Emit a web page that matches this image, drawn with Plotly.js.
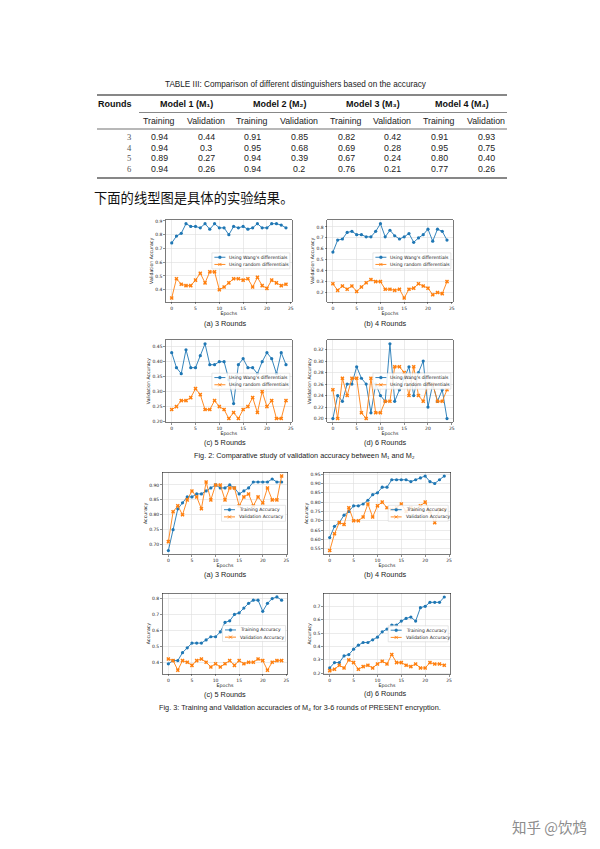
<!DOCTYPE html>
<html><head><meta charset="utf-8">
<script src="https://cdn.plot.ly/plotly-3.0.1.min.js"></script>
<style>html,body{margin:0;padding:0;background:#fff}</style>
</head><body><div id="page" style="width:600px;height:849px"></div>
<script>
// ---------------- data ----------------
const epochs = [0,1,2,3,4,5,6,7,8,9,10,11,12,13,14,15,16,17,18,19,20,21,22,23,24];

const tableCaption = 'TABLE III: Comparison of different distinguishers based on the accuracy';
const tableRoundsHead = 'Rounds';
const tableRounds = ['3','4','5','6'];
const tableModels = ['Model 1 (M₁)','Model 2 (M₂)','Model 3 (M₃)','Model 4 (M₄)'];
const tableSubHeads = ['Training','Validation'];
const m1Train = ['0.94','0.94','0.89','0.94'];
const m1Val   = ['0.44','0.3','0.27','0.26'];
const m2Train = ['0.91','0.95','0.94','0.94'];
const m2Val   = ['0.85','0.68','0.39','0.2'];
const m3Train = ['0.82','0.69','0.67','0.76'];
const m3Val   = ['0.42','0.28','0.24','0.21'];
const m4Train = ['0.91','0.95','0.80','0.77'];
const m4Val   = ['0.93','0.75','0.40','0.26'];

const bodyText = '下面的线型图是具体的实验结果。';
const subCaptions = ['(a) 3 Rounds','(b) 4 Rounds','(c) 5 Rounds','(d) 6 Rounds'];
const fig2Caption = 'Fig. 2: Comparative study of validation accuracy between M₁ and M₂';
const fig3Caption = 'Fig. 3: Training and Validation accuracies of M₄ for 3-6 rounds of PRESENT encryption.';
const fig2Names = ["Using Wang's differentials", 'Using random differentials'];
const fig3Names = ['Training Accuracy', 'Validation Accuracy'];
const fig2YTitle = 'Validation Accuracy';
const fig3YTitle = 'Accuracy';
const xTitle = 'Epochs';
const watermark = '知乎 @饮鸩';

// Fig. 2 : validation accuracy, M1 (Wang's differentials) vs M2 (random differentials)
const f2r3Wang   = [0.74,0.79,0.81,0.88,0.86,0.86,0.85,0.88,0.84,0.88,0.85,0.85,0.80,0.86,0.85,0.86,0.84,0.85,0.88,0.85,0.85,0.88,0.88,0.87,0.85];
const f2r3Random = [0.34,0.48,0.44,0.43,0.43,0.47,0.52,0.45,0.53,0.53,0.40,0.42,0.45,0.48,0.48,0.47,0.48,0.42,0.49,0.43,0.41,0.47,0.45,0.43,0.44];
const f2r4Wang   = [0.57,0.68,0.69,0.75,0.76,0.73,0.73,0.71,0.71,0.76,0.83,0.71,0.77,0.72,0.69,0.71,0.74,0.66,0.70,0.73,0.78,0.67,0.78,0.76,0.68];
const f2r4Random = [0.28,0.22,0.26,0.23,0.26,0.21,0.25,0.29,0.32,0.30,0.30,0.23,0.23,0.22,0.23,0.15,0.23,0.24,0.28,0.26,0.24,0.18,0.20,0.19,0.30];
const f2r5Wang   = [0.43,0.38,0.36,0.44,0.38,0.38,0.42,0.46,0.39,0.39,0.40,0.40,0.34,0.26,0.39,0.41,0.38,0.38,0.36,0.40,0.43,0.41,0.36,0.43,0.39];
const f2r5Random = [0.24,0.25,0.27,0.27,0.28,0.31,0.29,0.24,0.24,0.27,0.25,0.24,0.21,0.23,0.21,0.24,0.25,0.28,0.23,0.30,0.25,0.27,0.21,0.21,0.27];
const f2r6Wang   = [0.20,0.24,0.23,0.26,0.26,0.29,0.27,0.26,0.21,0.26,0.24,0.23,0.33,0.23,0.25,0.27,0.29,0.24,0.28,0.30,0.22,0.26,0.23,0.25,0.20];
const f2r6Random = [0.25,0.20,0.27,0.24,0.27,0.27,0.21,0.20,0.27,0.21,0.21,0.23,0.23,0.29,0.29,0.28,0.24,0.29,0.24,0.23,0.26,0.26,0.23,0.23,0.25];

// Fig. 3 : training / validation accuracy of M4
const f3r3Train = [0.68,0.75,0.82,0.84,0.86,0.86,0.87,0.87,0.88,0.89,0.90,0.89,0.89,0.90,0.89,0.87,0.88,0.89,0.91,0.91,0.91,0.91,0.92,0.91,0.91];
const f3r3Val   = [0.71,0.81,0.83,0.80,0.85,0.88,0.86,0.82,0.91,0.85,0.90,0.90,0.85,0.89,0.89,0.83,0.86,0.87,0.83,0.86,0.84,0.89,0.85,0.85,0.93];
const f3r4Train = [0.61,0.67,0.69,0.73,0.75,0.78,0.78,0.79,0.81,0.84,0.85,0.88,0.88,0.92,0.92,0.92,0.92,0.91,0.92,0.93,0.94,0.91,0.90,0.92,0.94];
const f3r4Val   = [0.54,0.63,0.69,0.68,0.77,0.70,0.70,0.72,0.79,0.72,0.78,0.80,0.77,0.76,0.77,0.79,0.75,0.77,0.76,0.78,0.80,0.75,0.69,0.76,0.76];
const f3r5Train = [0.39,0.41,0.41,0.46,0.49,0.52,0.52,0.52,0.54,0.56,0.56,0.59,0.65,0.66,0.70,0.71,0.74,0.77,0.79,0.79,0.72,0.77,0.80,0.81,0.79];
const f3r5Val   = [0.42,0.41,0.35,0.41,0.40,0.38,0.41,0.42,0.40,0.37,0.39,0.37,0.39,0.41,0.38,0.41,0.39,0.40,0.40,0.42,0.41,0.35,0.40,0.41,0.41];
const f3r6Train = [0.24,0.28,0.28,0.33,0.34,0.38,0.41,0.43,0.43,0.45,0.47,0.51,0.53,0.56,0.56,0.59,0.61,0.62,0.59,0.69,0.70,0.73,0.73,0.73,0.77];
const f3r6Val   = [0.22,0.23,0.26,0.24,0.30,0.28,0.23,0.25,0.26,0.24,0.27,0.29,0.27,0.34,0.28,0.28,0.26,0.25,0.27,0.24,0.24,0.28,0.27,0.27,0.26];

// ---------------- layout helpers ----------------
const W = 600, H = 849;
const PX = x => x / W;
const PY = y => 1 - y / H;
const BLUE = '#1f77b4', ORANGE = '#ff7f0e';
const SANS = 'Liberation Sans, Arial, sans-serif';
const SERIF = 'Liberation Serif, Times New Roman, serif';
const MPL = 'DejaVu Sans, sans-serif';

const annotations = [];
const shapes = [];
function txt(text, x, y, size, opts) {
  opts = opts || {};
  annotations.push({
    xref: 'paper', yref: 'paper', x: PX(x), y: PY(y),
    xanchor: opts.xanchor || 'center', yanchor: 'middle',
    text: text, showarrow: false, borderpad: 0,
    font: {family: opts.family || SANS, size: size, color: opts.color || '#111', weight: opts.weight || 'normal'}
  });
}
function hline(x0, x1, y, w, color) {
  shapes.push({type: 'line', xref: 'paper', yref: 'paper', x0: PX(x0), x1: PX(x1), y0: PY(y), y1: PY(y),
    line: {color: color || '#111', width: w}, layer: 'above'});
}

// ---------------- table ----------------
txt(tableCaption, 296, 84, 8.2, {color: '#222'});
hline(97, 507, 95, 1.1);
txt(tableRoundsHead, 97, 104, 9, {xanchor: 'left', weight: 'bold'});
const modelX = [186, 280, 373, 462];
tableModels.forEach((m, i) => txt(m, modelX[i], 104, 9, {weight: 'bold'}));
hline(139, 507, 112.5, 0.5);
const colX = [159, 206, 252, 299, 346, 392, 439, 486];
colX.forEach((x, i) => txt(tableSubHeads[i % 2], x, 121, 8.8, {color: '#222'}));
hline(97, 507, 129, 0.6);
const rowY = [137, 147.7, 158.4, 169];
const cols = [m1Train, m1Val, m2Train, m2Val, m3Train, m3Val, m4Train, m4Val];
tableRounds.forEach((r, j) => {
  txt(r, 129, rowY[j], 8.6, {family: SERIF, color: '#555'});
  cols.forEach((col, i) => txt(col[j], colX[i], rowY[j], 8.8, {color: '#222'}));
});
hline(97, 507, 178, 1.1);

txt(bodyText, 93, 197, 13.3, {xanchor: 'left', family: 'Noto Sans CJK SC, sans-serif', color: '#111'});

// ---------------- charts ----------------
const charts = [
  {px: [166, 291.7], py: [220, 301.7], a: f2r3Wang, b: f2r3Random, names: fig2Names, yt: fig2YTitle, dtick: 0.1, fmt: '.1f', legW: 78, sub: subCaptions[0], sx: 225, sy: 323},
  {px: [327.2, 452.7], py: [220, 301.7], a: f2r4Wang, b: f2r4Random, names: fig2Names, yt: fig2YTitle, dtick: 0.1, fmt: '.1f', legW: 78, sub: subCaptions[1], sx: 385, sy: 323},
  {px: [166, 291.7], py: [340, 422.3], a: f2r5Wang, b: f2r5Random, names: fig2Names, yt: fig2YTitle, dtick: 0.05, fmt: '.2f', legW: 78, sub: subCaptions[2], sx: 225, sy: 442.3},
  {px: [327.2, 452.7], py: [340, 422.3], a: f2r6Wang, b: f2r6Random, names: fig2Names, yt: fig2YTitle, dtick: 0.02, fmt: '.2f', legW: 78, sub: subCaptions[3], sx: 385, sy: 442.3},
  {px: [162.7, 287.3], py: [472.3, 554.3], a: f3r3Train, b: f3r3Val, names: fig3Names, yt: fig3YTitle, dtick: 0.05, fmt: '.2f', legW: 64, sub: subCaptions[0], sx: 225, sy: 574},
  {px: [324, 450], py: [472.3, 554.3], a: f3r4Train, b: f3r4Val, names: fig3Names, yt: fig3YTitle, dtick: 0.05, fmt: '.2f', legW: 60, sub: subCaptions[1], sx: 385, sy: 574},
  {px: [162.7, 287.3], py: [593.3, 673.8], a: f3r5Train, b: f3r5Val, names: fig3Names, yt: fig3YTitle, dtick: 0.1, fmt: '.1f', legW: 63, sub: subCaptions[2], sx: 225, sy: 694},
  {px: [324, 450], py: [593.3, 674.3], a: f3r6Train, b: f3r6Val, names: fig3Names, yt: fig3YTitle, dtick: 0.1, fmt: '.1f', legW: 60, sub: subCaptions[3], sx: 385, sy: 693.5}
];

const layout = {
  width: W, height: H, margin: {l: 0, r: 0, t: 0, b: 0},
  paper_bgcolor: '#fff', plot_bgcolor: '#fff', showlegend: false,
  annotations: annotations, shapes: shapes
};
const data = [];

charts.forEach((c, i) => {
  const n = i === 0 ? '' : String(i + 1);
  const all = c.a.concat(c.b);
  const mn = Math.min(...all), mx = Math.max(...all), pad = (mx - mn) * 0.05;
  const axCommon = {
    showgrid: true, gridcolor: '#dedede', gridwidth: 0.6,
    showline: true, mirror: true, linecolor: '#222', linewidth: 0.6,
    ticks: 'outside', ticklen: 2, tickwidth: 0.5, tickcolor: '#222',
    tickfont: {family: MPL, size: 4.5, color: '#222'},
    zeroline: false, fixedrange: true
  };
  layout['xaxis' + n] = Object.assign({}, axCommon, {
    domain: [PX(c.px[0]), PX(c.px[1])], anchor: 'y' + n,
    range: [-1.2, 25.2], tick0: 0, dtick: 5,
    title: {text: xTitle, font: {family: MPL, size: 4.7, color: '#222'}, standoff: 1}
  });
  layout['yaxis' + n] = Object.assign({}, axCommon, {
    domain: [PY(c.py[1]), PY(c.py[0])], anchor: 'x' + n,
    range: [mn - pad, mx + pad], dtick: c.dtick, tick0: 0, tickformat: c.fmt,
    title: {text: c.yt, font: {family: MPL, size: 4.7, color: '#222'}, standoff: 1}
  });
  data.push({type: 'scatter', mode: 'lines+markers', x: epochs, y: c.a, name: c.names[0],
    xaxis: 'x' + n, yaxis: 'y' + n,
    line: {color: BLUE, width: 0.9}, marker: {symbol: 'circle', size: 3.2, color: BLUE}});
  data.push({type: 'scatter', mode: 'lines+markers', x: epochs, y: c.b, name: c.names[1],
    xaxis: 'x' + n, yaxis: 'y' + n,
    line: {color: ORANGE, width: 0.9}, marker: {symbol: 'x', size: 3.6, color: ORANGE}});

  // legend box (matplotlib-style, "center right")
  const bx1 = c.px[1] - 1.8, bx0 = bx1 - c.legW;
  const cy = (c.py[0] + c.py[1]) / 2;
  shapes.push({type: 'rect', xref: 'paper', yref: 'paper', x0: PX(bx0), x1: PX(bx1), y0: PY(cy + 8), y1: PY(cy - 8),
    line: {color: '#cfcfcf', width: 0.5}, fillcolor: 'rgba(255,255,255,0.85)', layer: 'above'});
  [[c.names[0], BLUE, cy - 3.6, 'o'], [c.names[1], ORANGE, cy + 3.6, 'x']].forEach(e => {
    shapes.push({type: 'line', xref: 'paper', yref: 'paper', x0: PX(bx0 + 2.5), x1: PX(bx0 + 13.5), y0: PY(e[2]), y1: PY(e[2]),
      line: {color: e[1], width: 0.9}, layer: 'above'});
    if (e[3] === 'o') {
      shapes.push({type: 'circle', xref: 'paper', yref: 'paper', xsizemode: 'pixel', ysizemode: 'pixel',
        xanchor: PX(bx0 + 8), yanchor: PY(e[2]), x0: -1.5, x1: 1.5, y0: -1.5, y1: 1.5,
        fillcolor: e[1], line: {color: e[1], width: 0.3}, layer: 'above'});
    } else {
      shapes.push({type: 'path', xref: 'paper', yref: 'paper', xsizemode: 'pixel', ysizemode: 'pixel',
        xanchor: PX(bx0 + 8), yanchor: PY(e[2]), path: 'M-1.5,-1.5L1.5,1.5M-1.5,1.5L1.5,-1.5',
        line: {color: e[1], width: 0.9}, layer: 'above'});
    }
    txt(e[0], bx0 + 16.5, e[2], 4.5, {xanchor: 'left', family: MPL, color: '#222'});
  });

  txt(c.sub, c.sx, c.sy, 7.3, {color: '#222'});
});

txt(fig2Caption, 304, 455, 7.3, {color: '#222'});
txt(fig3Caption, 300, 707, 7.3, {color: '#222'});
txt(watermark, 549, 826, 14.5, {color: '#8c8c8c', family: 'Noto Sans CJK SC, sans-serif'});

Plotly.newPlot('page', data, layout, {staticPlot: true, displayModeBar: false});
</script>
</body></html>
